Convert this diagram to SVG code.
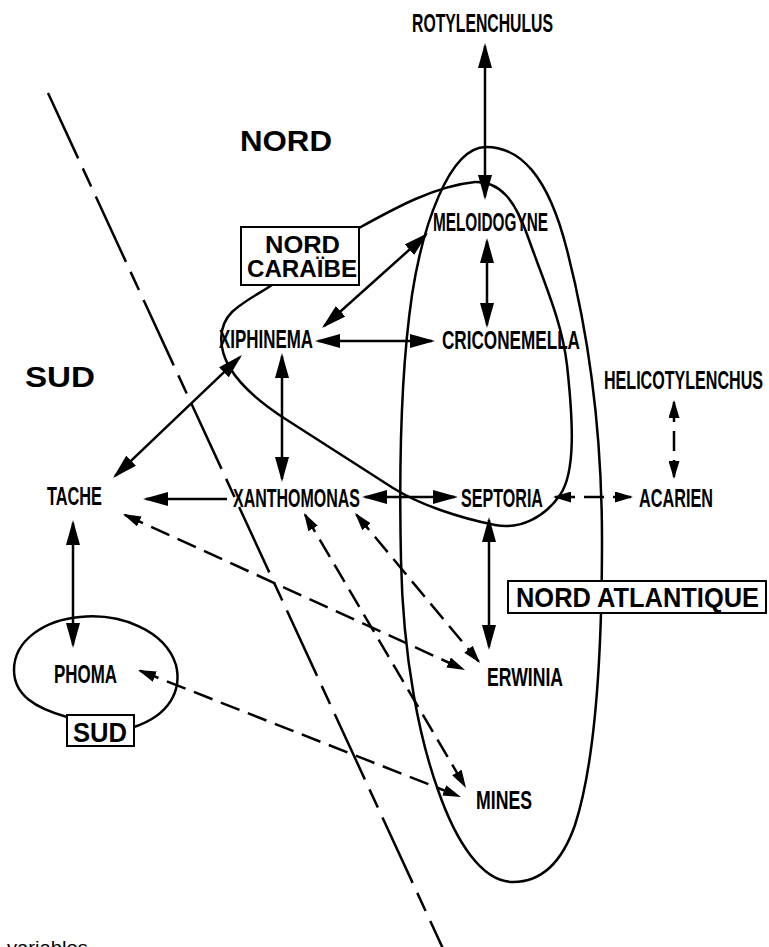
<svg xmlns="http://www.w3.org/2000/svg" width="769" height="947" viewBox="0 0 769 947">
<style>
.lbl{font-family:"Liberation Sans Narrow","Liberation Sans",Arial,sans-serif;font-weight:bold;font-size:25px;fill:#000}
.reg{font-family:"Liberation Sans",Arial,sans-serif;font-weight:bold;fill:#000}
.ln{fill:none;stroke:#000;stroke-width:2.5}
.sol{fill:none;stroke:#000;stroke-width:2.5;marker-start:url(#ah);marker-end:url(#ah)}
.dsh{fill:none;stroke:#000;stroke-width:2.5;stroke-dasharray:20 9;marker-start:url(#ahs);marker-end:url(#ahs)}
.box{fill:#fff;stroke:#000;stroke-width:2}
</style>
<defs>
<marker id="ah" viewBox="0 0 25 14" refX="22" refY="7" markerWidth="25" markerHeight="14" markerUnits="userSpaceOnUse" orient="auto-start-reverse"><path d="M0,0 L25,7 L0,14 z" fill="#000"/></marker>
<marker id="ahs" viewBox="0 0 18 11" refX="16" refY="5.5" markerWidth="18" markerHeight="11" markerUnits="userSpaceOnUse" orient="auto-start-reverse"><path d="M0,0 L18,5.5 L0,11 z" fill="#000"/></marker>
</defs>
<rect width="769" height="947" fill="#fff"/>

<g id="regions">
<path id="divider" d="M48,93 L445,953" class="ln" stroke-dasharray="72 11 20 11"/>
<path id="oval-atlantique" class="ln" d="M486,147 C520,147 548,175 567,250 C585,320 602,420 602,540 C602,650 596,760 575,825 C560,868 538,882 513,882 C482,882 456,842 438,790 C420,740 403,660 401,560 C399,470 401,370 412,295 C422,230 448,147 486,147 Z"/>
<path id="loop-caraibe" class="ln" d="M359,228 C395,208 435,186 475,182 C500,181 515,200 528,237 C545,285 562,322 567,365 C573,420 576,472 560,495 C545,517 520,530 495,525 C460,518 420,505 393,488 L287,420 C262,404 242,388 230,368 C218,348 218,326 232,312 C245,300 262,292 272,285"/>
<path id="loop-sud" class="ln" d="M67,717 C35,708 14,695 14,670 C14,640 45,620 80,617 C120,613 165,630 176,665 C182,690 170,715 134,727"/>
<text class="reg" x="240" y="151" font-size="30" textLength="92" lengthAdjust="spacingAndGlyphs">NORD</text>
<text class="reg" x="25" y="387" font-size="30" textLength="70" lengthAdjust="spacingAndGlyphs">SUD</text>
<g id="box-nord-caraibe">
<rect class="box" x="241" y="227" width="118" height="58"/>
<text class="reg" x="265" y="253" font-size="24" textLength="75" lengthAdjust="spacingAndGlyphs">NORD</text>
<text class="reg" x="247" y="277" font-size="24" textLength="110" lengthAdjust="spacingAndGlyphs">CARAÏBE</text>
</g>
<g id="box-nord-atlantique">
<rect class="box" x="508" y="581" width="258" height="32"/>
<text class="reg" x="516" y="607" font-size="28" textLength="243" lengthAdjust="spacingAndGlyphs">NORD ATLANTIQUE</text>
</g>
<g id="box-sud">
<rect class="box" x="67" y="715" width="67" height="31"/>
<text class="reg" x="73" y="742" font-size="27" textLength="54" lengthAdjust="spacingAndGlyphs">SUD</text>
</g>
</g>

<g id="connectors">
<line class="sol" x1="485" y1="46" x2="485" y2="197"/>
<line class="sol" x1="487" y1="241" x2="487" y2="325"/>
<line class="sol" x1="425.8" y1="235" x2="324.2" y2="326"/>
<line class="sol" x1="318" y1="341" x2="432" y2="341"/>
<line class="sol" x1="282" y1="356" x2="282" y2="479"/>
<line class="sol" x1="239.8" y1="357.1" x2="115.2" y2="475.9"/>
<line class="ln" x1="227" y1="499" x2="146" y2="499" marker-end="url(#ah)"/>
<line class="sol" x1="365" y1="497" x2="455" y2="497"/>
<line class="sol" x1="73" y1="523" x2="73" y2="645"/>
<line class="sol" x1="489" y1="520" x2="489" y2="647"/>
<line class="dsh" x1="674" y1="402" x2="674" y2="477"/>
<line class="dsh" x1="555" y1="497" x2="631" y2="497"/>
<line class="dsh" x1="124.8" y1="514.8" x2="463.2" y2="669.2"/>
<line class="dsh" x1="356.3" y1="514.5" x2="478.7" y2="661.5"/>
<line class="dsh" x1="305" y1="514.7" x2="465" y2="786.3"/>
<line class="dsh" x1="139.9" y1="670.7" x2="459.1" y2="796.3"/>
</g>

<g id="n-rotylenchulus"><text class="lbl" x="412" y="32" textLength="141" lengthAdjust="spacingAndGlyphs">ROTYLENCHULUS</text></g>
<g id="n-meloidogyne"><text class="lbl" x="433" y="231" textLength="115" lengthAdjust="spacingAndGlyphs">MELOIDOGYNE</text></g>
<g id="n-criconemella"><text class="lbl" x="442" y="349" textLength="138" lengthAdjust="spacingAndGlyphs">CRICONEMELLA</text></g>
<g id="n-xiphinema"><text class="lbl" x="219" y="348" textLength="94" lengthAdjust="spacingAndGlyphs">XIPHINEMA</text></g>
<g id="n-helicotylenchus"><text class="lbl" x="604" y="389" textLength="159" lengthAdjust="spacingAndGlyphs">HELICOTYLENCHUS</text></g>
<g id="n-acarien"><text class="lbl" x="639" y="507" textLength="74" lengthAdjust="spacingAndGlyphs">ACARIEN</text></g>
<g id="n-septoria"><text class="lbl" x="461" y="507" textLength="82" lengthAdjust="spacingAndGlyphs">SEPTORIA</text></g>
<g id="n-xanthomonas"><text class="lbl" x="233" y="507" textLength="127" lengthAdjust="spacingAndGlyphs">XANTHOMONAS</text></g>
<g id="n-tache"><text class="lbl" x="47" y="505" textLength="55" lengthAdjust="spacingAndGlyphs">TACHE</text></g>
<g id="n-phoma"><text class="lbl" x="54" y="683" textLength="63" lengthAdjust="spacingAndGlyphs">PHOMA</text></g>
<g id="n-erwinia"><text class="lbl" x="487" y="686" textLength="76" lengthAdjust="spacingAndGlyphs">ERWINIA</text></g>
<g id="n-mines"><text class="lbl" x="476" y="809" textLength="56" lengthAdjust="spacingAndGlyphs">MINES</text></g>

<text x="7" y="954" font-family="Liberation Sans, Arial, sans-serif" font-size="18" textLength="81" lengthAdjust="spacingAndGlyphs">variables</text>
</svg>
